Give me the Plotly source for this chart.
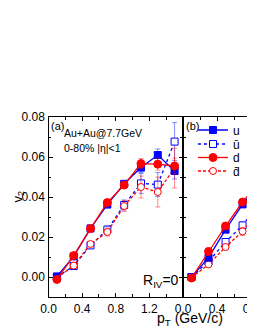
import plotly.graph_objects as go

# ---------------- data ----------------
pt_a = [0.1, 0.3, 0.5, 0.7, 0.9, 1.1, 1.3, 1.5]
u_a = [0.0003, 0.0103, 0.0243, 0.0362, 0.0466, 0.0547, 0.0610, 0.0530]
d_a = [-0.0012, 0.0107, 0.0242, 0.0372, 0.0460, 0.0567, 0.0564, 0.0555]
ubar_a = [0.0, 0.0055, 0.0158, 0.0237, 0.0360, 0.0468, 0.0462, 0.0677]
dbar_a = [-0.0005, 0.0057, 0.0165, 0.0225, 0.0355, 0.0450, 0.0425, 0.0545]
u_a_err = [0.0005, 0.0006, 0.0008, 0.0010, 0.0015, 0.0025, 0.0030, 0.0040]
d_a_err = [0.0005, 0.0006, 0.0008, 0.0010, 0.0015, 0.0025, 0.0030, 0.0040]
ubar_a_err = [0.0008, 0.0010, 0.0012, 0.0018, 0.0025, 0.0050, 0.0060, 0.0095]
dbar_a_err = [0.0008, 0.0010, 0.0012, 0.0020, 0.0028, 0.0055, 0.0075, 0.0100]

pt_b = [0.1, 0.3, 0.5, 0.7, 0.9]
u_b = [0.0, 0.0097, 0.0237, 0.0363, 0.0465]
d_b = [-0.0005, 0.0128, 0.0255, 0.0375, 0.0475]
ubar_b = [0.0, 0.0078, 0.0175, 0.0258, 0.0370]
dbar_b = [-0.0003, 0.0063, 0.0150, 0.0228, 0.0340]
u_b_err = [0.0005, 0.0006, 0.0008, 0.0010, 0.0015]
d_b_err = [0.0005, 0.0006, 0.0008, 0.0010, 0.0015]
ubar_b_err = [0.0008, 0.0010, 0.0012, 0.0018, 0.0025]
dbar_b_err = [0.0008, 0.0010, 0.0012, 0.0020, 0.0028]

names = ["u", "\u016b", "d", "d\u0304"]
xticks_a = [0.0, 0.4, 0.8, 1.2]
xticks_b = [0.0, 0.4, 0.8]
yticks = [0.00, 0.02, 0.04, 0.06, 0.08]
ytick_text = ["0.00", "0.02", "0.04", "0.06", "0.08"]

BLUE = "#0000FF"
RED = "#FF0000"
styles = [
    dict(color=BLUE, dash="solid", symbol="square", fill=BLUE, size=7, ecol="rgba(0,0,255,0.45)"),
    dict(color=BLUE, dash="dot", symbol="square", fill="white", size=7, ecol="rgba(0,0,255,0.45)"),
    dict(color=RED, dash="solid", symbol="circle", fill=RED, size=8, ecol="rgba(255,0,0,0.45)"),
    dict(color=RED, dash="3px,2px", symbol="circle", fill="white", size=7, ecol="rgba(255,0,0,0.45)"),
]
legend_ids = ["legend", "legend2", "legend3", "legend4"]

fig = go.Figure()

series_a = [(u_a, u_a_err), (ubar_a, ubar_a_err), (d_a, d_a_err), (dbar_a, dbar_a_err)]
series_b = [(u_b, u_b_err), (ubar_b, ubar_b_err), (d_b, d_b_err), (dbar_b, dbar_b_err)]

order = [1, 3, 0, 2]
for i in order:
    s = styles[i]
    y, e = series_a[i]
    fig.add_trace(go.Scatter(
        x=pt_a, y=y, name=names[i], mode="lines+markers",
        line=dict(color=s["color"], dash=s["dash"], width=1.3),
        marker=dict(symbol=s["symbol"], size=s["size"], color=s["fill"],
                    line=dict(color=s["color"], width=1)),
        error_y=dict(type="data", array=e, color=s["ecol"], thickness=1, width=2.5),
        xaxis="x", yaxis="y", showlegend=True, legend=legend_ids[i],
    ))
for i in order:
    s = styles[i]
    y, e = series_b[i]
    fig.add_trace(go.Scatter(
        x=pt_b, y=y, name=names[i], mode="lines+markers",
        line=dict(color=s["color"], dash=s["dash"], width=1.3),
        marker=dict(symbol=s["symbol"], size=s["size"], color=s["fill"],
                    line=dict(color=s["color"], width=1)),
        error_y=dict(type="data", array=e, color=s["ecol"], thickness=1, width=2.5),
        xaxis="x2", yaxis="y2", showlegend=False,
    ))

# the page body adds an 8px offset; figure coords = screen coords - 8
W, H = 255, 330
xa0, xa1 = 40.5 / W, 175 / W
y0, y1 = (H - 289) / H, (H - 109) / H

axis_common = dict(
    showline=True, linecolor="black", linewidth=1.3, mirror="ticks",
    ticks="inside", ticklen=4, tickcolor="black", tickwidth=1,
    showgrid=False, zeroline=False, automargin=False,
    tickfont=dict(family="Liberation Sans, Arial", size=12, color="black"),
)
minor_x = dict(dtick=0.2, tick0=0, ticks="inside", ticklen=2.5, tickcolor="black")
minor_y = dict(dtick=0.01, tick0=0, ticks="inside", ticklen=2.5, tickcolor="black")

legend_rows = [122, 136, 149.5, 163]
leg_font = dict(size=12, family="Liberation Sans, Arial", color="black")
legend_layout = {}
for lid, row in zip(legend_ids, legend_rows):
    legend_layout[lid] = dict(x=185 / W, y=(H - row) / H, xanchor="left", yanchor="middle",
                              bgcolor="rgba(0,0,0,0)", font=leg_font, itemwidth=30)

fig.update_layout(
    width=W, height=H,
    margin=dict(l=0, r=0, t=0, b=0, autoexpand=False),
    plot_bgcolor="white", paper_bgcolor="white",
    font=dict(family="Liberation Sans, Arial", color="black"),
    xaxis=dict(domain=[xa0, xa1], range=[0, 1.6], anchor="y",
               tickvals=xticks_a, ticktext=["0.0", "0.4", "0.8", "1.2"],
               minor=minor_x, **axis_common),
    yaxis=dict(domain=[y0, y1], range=[-0.01, 0.08], anchor="x",
               tickvals=yticks, ticktext=ytick_text,
               minor=minor_y, **axis_common),
    xaxis2=dict(domain=[xa1, 1.0], range=[0, 0.94], anchor="y2",
                tickvals=xticks_b, ticktext=["0.0", "0.4", "0.8"],
                minor=minor_x, **axis_common),
    yaxis2=dict(domain=[y0, y1], range=[-0.01, 0.08], anchor="x2",
                tickvals=yticks, showticklabels=False,
                minor=minor_y, **axis_common),
    showlegend=True,
    **legend_layout,
)

ann_font = dict(family="Liberation Sans, Arial", color="black")
fig.add_annotation(xref="paper", yref="paper", x=41 / W, y=(H - 110) / H, xanchor="left", yanchor="top",
                   text="(a)", showarrow=False, font=dict(size=11, **ann_font))
fig.add_annotation(xref="paper", yref="paper", x=176 / W, y=(H - 110) / H, xanchor="left", yanchor="top",
                   text="(b)", showarrow=False, font=dict(size=11, **ann_font))
fig.add_annotation(xref="paper", yref="paper", x=54 / W, y=(H - 125) / H, xanchor="left", yanchor="middle",
                   text="Au+Au@7.7GeV", showarrow=False, font=dict(size=10.5, **ann_font))
fig.add_annotation(xref="paper", yref="paper", x=54 / W, y=(H - 140) / H, xanchor="left", yanchor="middle",
                   text="0-80% |\u03b7|<1", showarrow=False, font=dict(size=10.5, **ann_font))
fig.add_annotation(xref="paper", yref="paper", x=133 / W, y=(H - 273) / H, xanchor="left", yanchor="middle",
                   text="R<sub>IV</sub>=0", showarrow=False, font=dict(size=14, **ann_font))
fig.add_annotation(xref="paper", yref="paper", x=182 / W, y=(H - 311) / H, xanchor="center", yanchor="middle",
                   text="p<sub>T</sub> (GeV/c)", showarrow=False, font=dict(size=14, **ann_font))
fig.add_annotation(xref="paper", yref="paper", x=0, y=(H - 189) / H, xanchor="left", yanchor="middle",
                   text="v<sub>2</sub>", textangle=-90, showarrow=False, borderpad=0,
                   font=dict(size=13, **ann_font))

fig.write_html("out.html")
